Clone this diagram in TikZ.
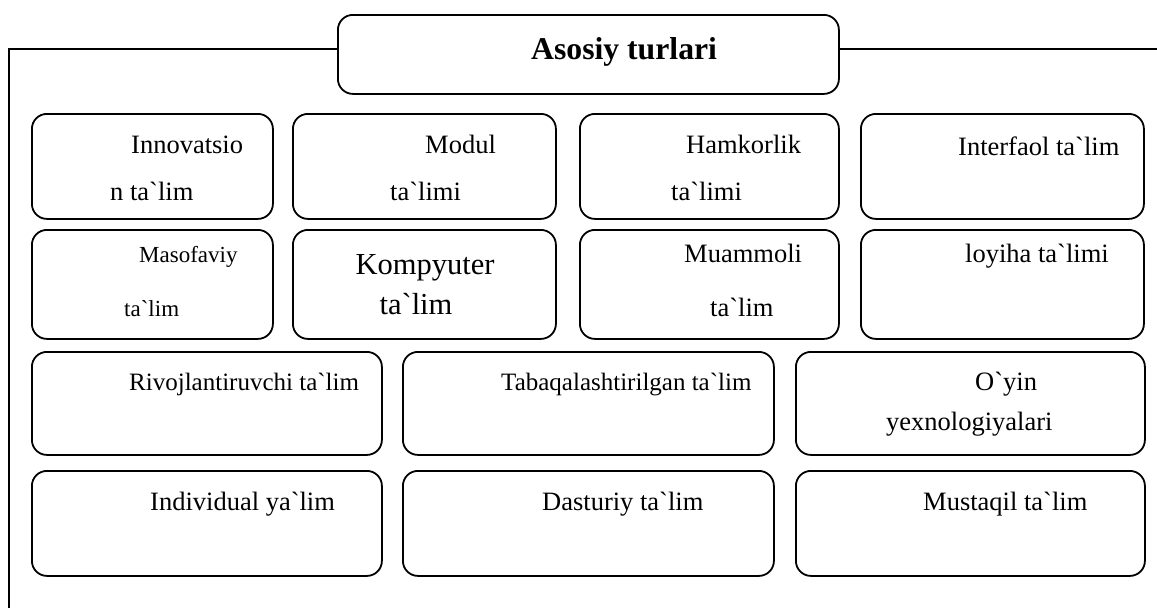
\documentclass[tikz,border=0pt]{standalone}
\usepackage{fontspec}
\setmainfont{Liberation Serif}[Ligatures=TeXOff]
\begin{document}
\begin{tikzpicture}[x=1pt,y=-1pt,
  bx/.style={draw, line width=1.8pt, rounded corners=15pt, anchor=north west, inner sep=0pt},
  tx/.style={anchor=base west, inner sep=0pt, font=\fontsize{26.5}{30}\selectfont},
  txs/.style={anchor=base west, inner sep=0pt, font=\fontsize{23}{26}\selectfont},
  txl/.style={anchor=base west, inner sep=0pt, font=\fontsize{25}{28}\selectfont},
  txk/.style={anchor=base, inner sep=0pt, font=\fontsize{30.5}{34}\selectfont},
  ttl/.style={anchor=base west, inner sep=0pt, font=\fontsize{31.7}{34}\selectfont\bfseries},
  ln/.style={line width=1.8pt}]
\useasboundingbox (0,0) rectangle (1157,608);
% title
\node[bx, minimum width=501pt, minimum height=79pt] (title) at (337,14) {};
\node[ttl] (ttext) at (531,59) {Asosiy turlari};
\coordinate (tl) at (9,49);
\coordinate (lb) at (9,608);
\coordinate (tr) at (1157,49);
\draw[ln] (title.west |- tl) -- (tl) -- (lb);
\draw[ln] (title.east |- tr) -- (tr);
% row 1
\node[bx, minimum width=241pt, minimum height=105pt] (b11) at (31,113) {};
\node[bx, minimum width=263pt, minimum height=105pt] (b12) at (292,113) {};
\node[bx, minimum width=259pt, minimum height=105pt] (b13) at (579,113) {};
\node[bx, minimum width=283pt, minimum height=105pt] (b14) at (860,113) {};
\node[tx] (t11a) at (131,153) {Innovatsio};
\node[tx] (t11b) at (110,200) {n ta`lim};
\node[tx] (t12a) at (425,153) {Modul};
\node[tx] (t12b) at (390,200) {ta`limi};
\node[tx] (t13a) at (686,153) {Hamkorlik};
\node[tx] (t13b) at (671,200) {ta`limi};
\node[tx] (t14) at (958,155) {Interfaol ta`lim};
% row 2
\node[bx, minimum width=241pt, minimum height=109pt] (b21) at (31,229) {};
\node[bx, minimum width=263pt, minimum height=109pt] (b22) at (292,229) {};
\node[bx, minimum width=259pt, minimum height=109pt] (b23) at (579,229) {};
\node[bx, minimum width=283pt, minimum height=109pt] (b24) at (860,229) {};
\node[txs] (t21a) at (139,262) {Masofaviy};
\node[txs] (t21b) at (124,316) {ta`lim};
\node[txk] (t22a) at (425,274) {Kompyuter};
\node[txk] (t22b) at (416,314) {ta`lim};
\node[tx] (t23a) at (684,262) {Muammoli};
\node[tx] (t23b) at (710,316) {ta`lim};
\node[tx] (t24) at (965,262) {loyiha ta`limi};
% row 3
\node[bx, minimum width=350pt, minimum height=103pt] (b31) at (31,351) {};
\node[bx, minimum width=371pt, minimum height=103pt] (b32) at (402,351) {};
\node[bx, minimum width=349pt, minimum height=103pt] (b33) at (795,351) {};
\node[txl] (t31) at (129,390) {Rivojlantiruvchi ta`lim};
\node[txl] (t32) at (501,390) {Tabaqalashtirilgan ta`lim};
\node[tx] (t33a) at (975,390) {O`yin};
\node[tx] (t33b) at (886,430) {yexnologiyalari};
% row 4
\node[bx, minimum width=350pt, minimum height=105pt] (b41) at (31,470) {};
\node[bx, minimum width=371pt, minimum height=105pt] (b42) at (402,470) {};
\node[bx, minimum width=349pt, minimum height=105pt] (b43) at (795,470) {};
\node[tx] (t41) at (150,510) {Individual ya`lim};
\node[tx] (t42) at (542,510) {Dasturiy ta`lim};
\node[tx] (t43) at (923,510) {Mustaqil ta`lim};
\end{tikzpicture}
\end{document}
